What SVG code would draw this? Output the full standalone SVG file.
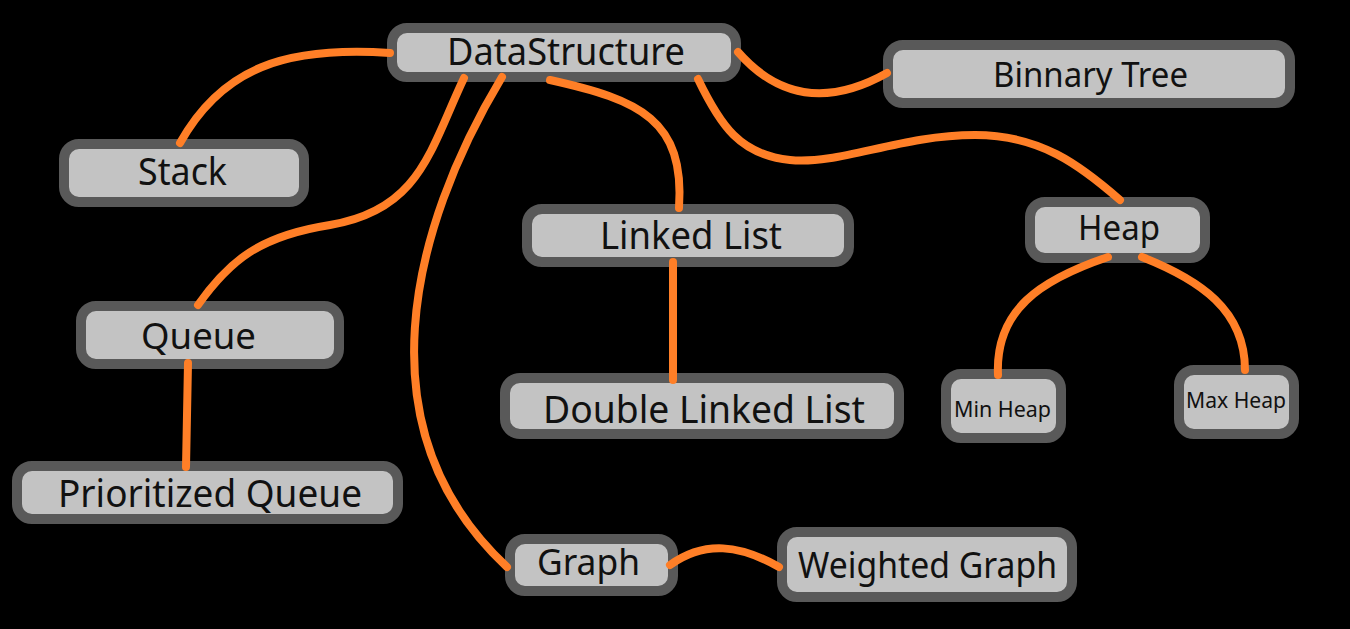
<svg xmlns="http://www.w3.org/2000/svg" width="1350" height="629" viewBox="0 0 1350 629">
<style>
.box{fill:#c3c3c3;stroke:#595959;stroke-width:10}
.lbl{font-family:"Noto Sans","Open Sans","DejaVu Sans",sans-serif;fill:#111}
.edge{fill:none;stroke:#ff7f27;stroke-width:8;stroke-linecap:round}
</style>
<rect width="1350" height="629" fill="#000"/>
<g id="nodes">
<g id="n-datastructure"><rect class="box" x="392" y="28" width="344" height="49" rx="15"/><text class="lbl" x="447" y="65" font-size="38" textLength="238" lengthAdjust="spacingAndGlyphs">DataStructure</text></g>
<g id="n-stack"><rect class="box" x="64" y="144" width="240" height="58" rx="15"/><text class="lbl" x="138" y="185" font-size="38" textLength="89" lengthAdjust="spacingAndGlyphs">Stack</text></g>
<g id="n-binnarytree"><rect class="box" x="888" y="45" width="402" height="58" rx="15"/><text class="lbl" x="993" y="87" font-size="34" textLength="195" lengthAdjust="spacingAndGlyphs">Binnary Tree</text></g>
<g id="n-queue"><rect class="box" x="81" y="306" width="258" height="58" rx="15"/><text class="lbl" x="141" y="349" font-size="37" textLength="115" lengthAdjust="spacingAndGlyphs">Queue</text></g>
<g id="n-prioritizedqueue"><rect class="box" x="17" y="466" width="381" height="53" rx="15"/><text class="lbl" x="58" y="507" font-size="38" textLength="304" lengthAdjust="spacingAndGlyphs">Prioritized Queue</text></g>
<g id="n-linkedlist"><rect class="box" x="527" y="209" width="322" height="53" rx="15"/><text class="lbl" x="600" y="249" font-size="38" textLength="182" lengthAdjust="spacingAndGlyphs">Linked List</text></g>
<g id="n-doublelinkedlist"><rect class="box" x="505" y="378" width="394" height="56" rx="15"/><text class="lbl" x="543" y="423" font-size="38" textLength="322" lengthAdjust="spacingAndGlyphs">Double Linked List</text></g>
<g id="n-heap"><rect class="box" x="1030" y="202" width="175" height="56" rx="15"/><text class="lbl" x="1078" y="240" font-size="35" textLength="82" lengthAdjust="spacingAndGlyphs">Heap</text></g>
<g id="n-minheap"><rect class="box" x="946" y="374" width="115" height="64" rx="15"/><text class="lbl" x="954" y="417" font-size="21" textLength="97" lengthAdjust="spacingAndGlyphs">Min Heap</text></g>
<g id="n-maxheap"><rect class="box" x="1179" y="370" width="115" height="64" rx="15"/><text class="lbl" x="1186" y="408" font-size="21" textLength="100" lengthAdjust="spacingAndGlyphs">Max Heap</text></g>
<g id="n-graph"><rect class="box" x="510" y="539" width="163" height="52" rx="15"/><text class="lbl" x="537" y="575" font-size="37" textLength="103" lengthAdjust="spacingAndGlyphs">Graph</text></g>
<g id="n-weightedgraph"><rect class="box" x="782" y="532" width="290" height="65" rx="15"/><text class="lbl" x="798" y="578" font-size="37" textLength="259" lengthAdjust="spacingAndGlyphs">Weighted Graph</text></g>
</g>
<g id="connectors">
<path class="edge" d="M390,53 C285,46 222,68 180,143"/>
<path class="edge" d="M738,52 C780,100 830,105 887,73"/>
<path class="edge" d="M698,79 C720,125 740,155 790,160 C840,165 900,135 975,135 C1040,135 1080,165 1120,200"/>
<path class="edge" d="M464,78 C430,150 420,210 330,225 C260,236 230,260 198,305"/>
<path class="edge" d="M502,77 C410,230 360,430 507,567"/>
<path class="edge" d="M550,80 C640,100 685,120 679,208"/>
<path class="edge" d="M673,262 L673,380"/>
<path class="edge" d="M188,363 L186,467"/>
<path class="edge" d="M1108,257 C1040,280 995,310 998,375"/>
<path class="edge" d="M1142,257 C1200,280 1245,310 1245,370"/>
<path class="edge" d="M670,565 C705,540 740,545 779,567"/>
</g>
</svg>
